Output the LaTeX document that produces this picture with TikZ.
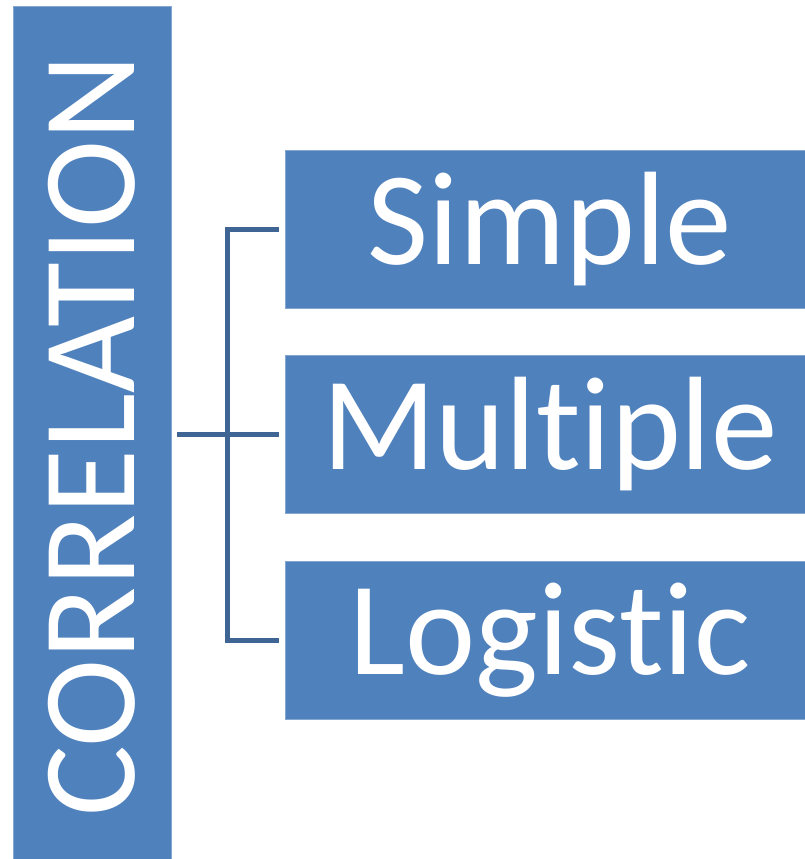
\documentclass[tikz,border=0pt]{standalone}
\usepackage{fontspec}
\setmainfont[Ligatures={NoCommon,NoRare}]{Carlito}
\usetikzlibrary{positioning}
\definecolor{corrBlue}{HTML}{4F81BD}
\definecolor{lineBlue}{HTML}{3F6595}

\begin{document}
\begin{tikzpicture}[x=1pt,y=-1pt,
    titlebar/.style={fill=corrBlue,draw=corrBlue!70!white,line width=0.8pt,
      text=white,inner sep=0pt,rotate=90,minimum width=860pt,minimum height=158pt,
      font=\fontsize{133}{133}\selectfont},
    kindbox/.style={fill=corrBlue,draw=corrBlue!70!white,line width=0.8pt,
      text=white,inner sep=0pt,minimum width=530pt,minimum height=158pt,
      font=\fontsize{133}{133}\selectfont},
    conn/.style={draw=lineBlue,line width=5pt}]
  \useasboundingbox (0,0) rectangle (805,859);

  \node[titlebar] (corr) at (92,436) {CORRELATION};

  \node[kindbox] (simple) at (550,229) {Simple};
  \node[kindbox] (multiple) at (550,434) {Multiple};
  \node[kindbox] (logistic) at (550,640.5) {Logistic};

  \coordinate (hub) at ([xshift=-57pt]multiple.west);
  \draw[conn] ([xshift=-6pt]simple.west) -| (hub) |- ([xshift=-6pt]logistic.west);
  \draw[conn] ([xshift=6pt]corr.south |- multiple) -- ([xshift=-6pt]multiple.west);
\end{tikzpicture}
\end{document}
